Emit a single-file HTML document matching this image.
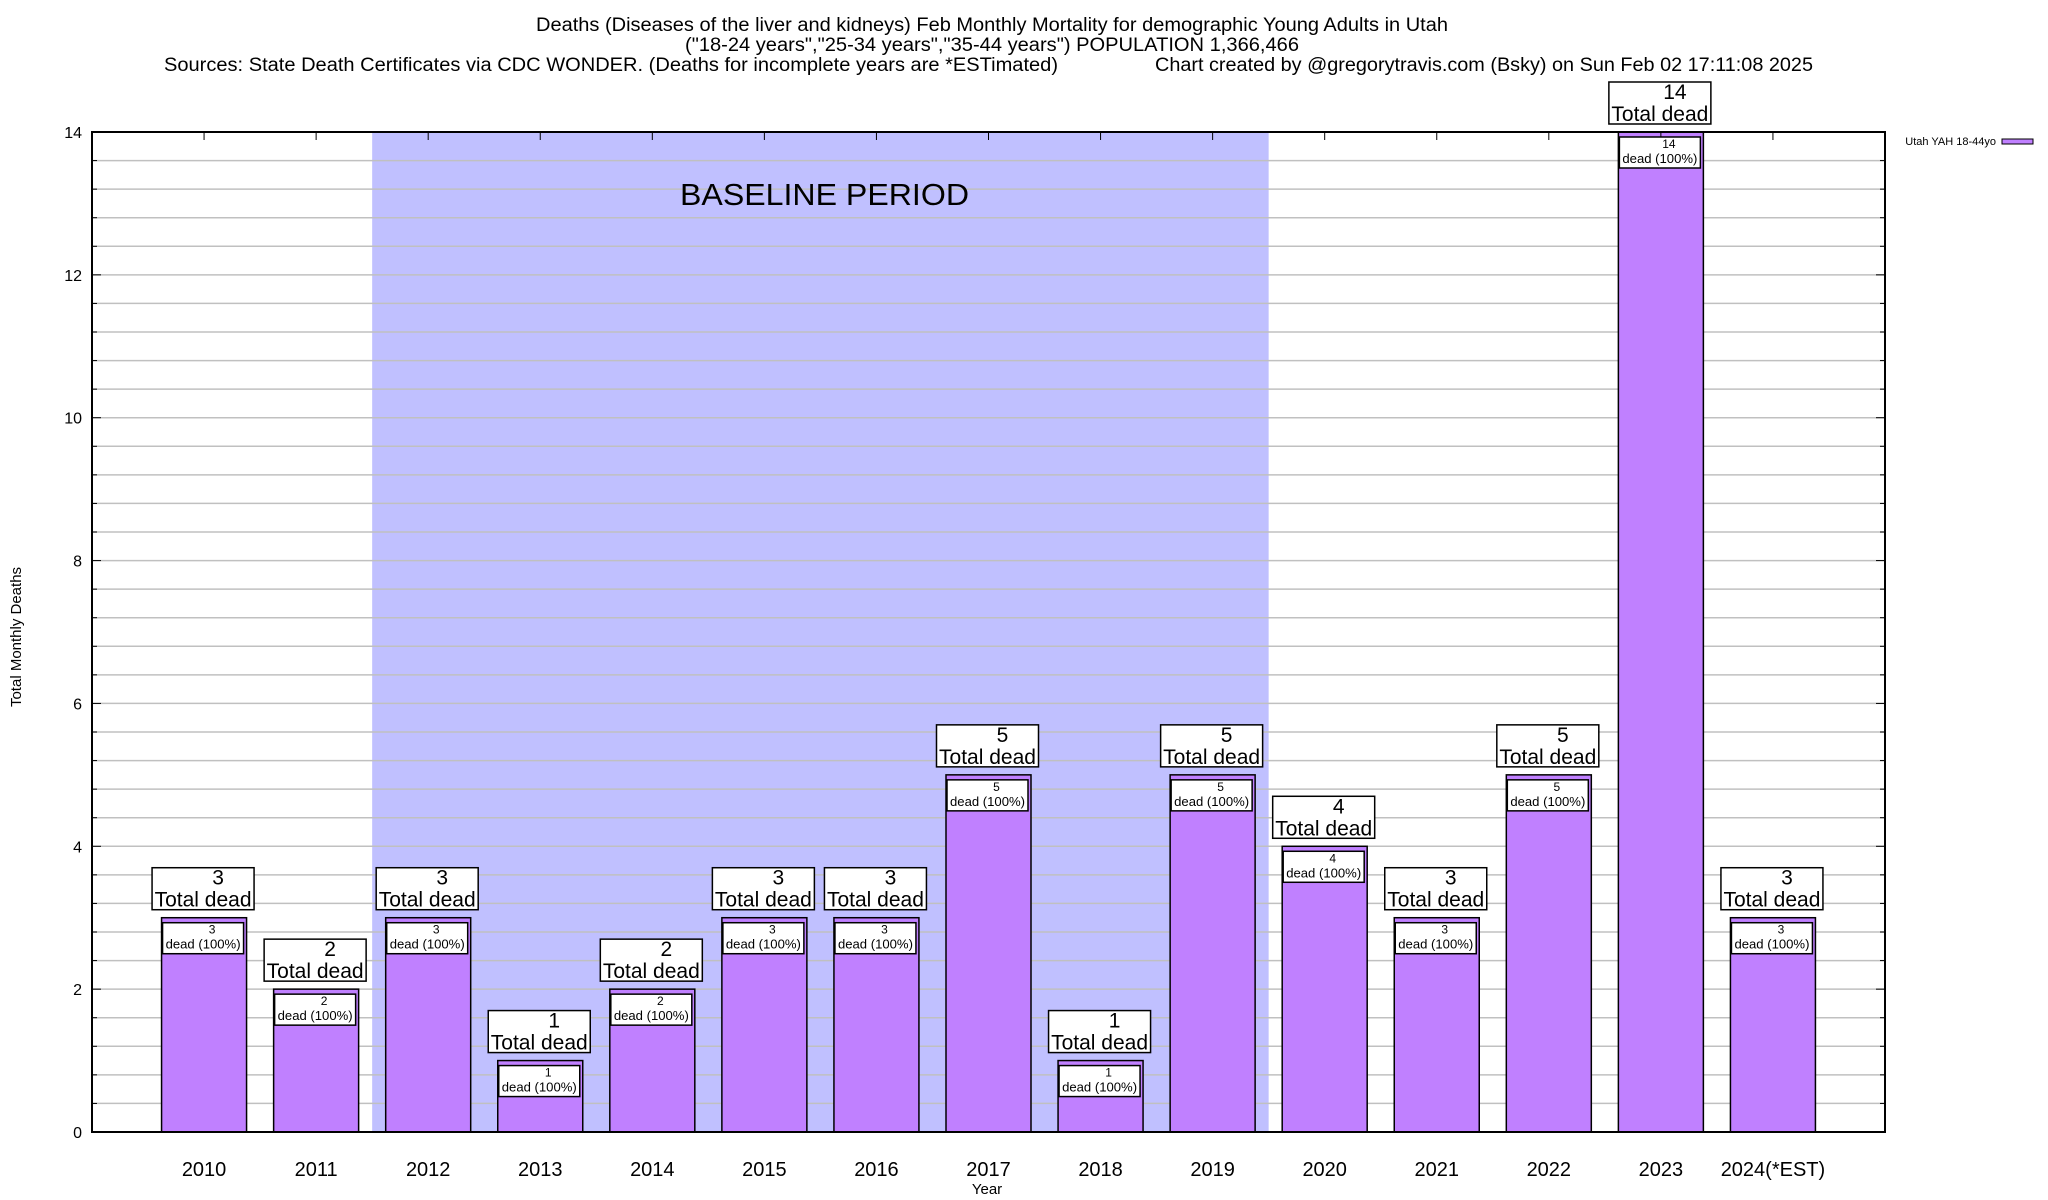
<!DOCTYPE html>
<html><head><meta charset="utf-8"><style>
html,body{margin:0;padding:0;background:#fff}
svg{display:block;font-family:"Liberation Sans",Arial,sans-serif}
</style></head><body>
<svg id="chart" width="2048" height="1200" viewBox="0 0 2048 1200" xmlns="http://www.w3.org/2000/svg">
<g font-size="19" fill="#000">
<text x="536" y="31" textLength="912" lengthAdjust="spacingAndGlyphs">Deaths (Diseases of the liver and kidneys) Feb Monthly Mortality for demographic Young Adults in Utah</text>
<text x="685" y="51" textLength="614" lengthAdjust="spacingAndGlyphs">("18-24 years","25-34 years","35-44 years") POPULATION 1,366,466</text>
<text x="164" y="71" textLength="894" lengthAdjust="spacingAndGlyphs">Sources: State Death Certificates via CDC WONDER. (Deaths for incomplete years are *ESTimated)</text>
<text x="1155" y="71" textLength="658" lengthAdjust="spacingAndGlyphs">Chart created by @gregorytravis.com (Bsky) on Sun Feb 02 17:11:08 2025</text>
</g>
<g id="plot"></g>
<g>
<text x="1996" y="145" font-size="11" text-anchor="end">Utah YAH 18-44yo</text>
<rect x="2002" y="139" width="31" height="5" fill="#c080ff" stroke="#000" stroke-width="1"/>
</g>
<text x="0" y="0" font-size="15" text-anchor="middle" transform="translate(21,637) rotate(-90)">Total Monthly Deaths</text>
<text x="987" y="1194" font-size="15" text-anchor="middle">Year</text>
</svg>
<script>
const categories = ["2010","2011","2012","2013","2014","2015","2016","2017","2018","2019","2020","2021","2022","2023","2024(*EST)"];
const deaths = [3,2,3,1,2,3,3,5,1,5,4,3,5,14,3];
const yTicks = [0,2,4,6,8,10,12,14];
const baselineRange = [1.5, 9.5];
const yMax = 14;

const NS = "http://www.w3.org/2000/svg";
const L = 92, R = 1885, T = 132, B = 1132;
const xS = i => L + (i + 1) * (R - L) / 16;
const yS = v => B - v * (B - T) / yMax;
const plot = document.getElementById('plot');
function mk(tag, attrs, parent, text) {
  const e = document.createElementNS(NS, tag);
  for (const k in attrs) e.setAttribute(k, attrs[k]);
  if (text !== undefined) e.textContent = text;
  (parent || plot).appendChild(e);
  return e;
}
// baseline shading
const shade = mk('rect', {x: xS(baselineRange[0]), y: T, width: xS(baselineRange[1]) - xS(baselineRange[0]), height: B - T, fill: '#c0c0ff'});


// grid + ticks
for (let k = 1; k < yMax / 0.4; k++) {
  const v = k * 0.4;
  const y = yS(v);
  const g = mk('line', {x1: L, x2: R, y1: y, y2: y, stroke: '#c0c0c0', 'stroke-width': 1.5});
  
  
  const major = Math.abs(v / 2 - Math.round(v / 2)) < 1e-6;
  const len = major ? 9 : 5;
  mk('line', {x1: L, x2: L + len, y1: y, y2: y, stroke: '#000', 'stroke-width': 1});
  mk('line', {x1: R - len, x2: R, y1: y, y2: y, stroke: '#000', 'stroke-width': 1});
}
const bl = mk('text', {x: 680, y: 205, 'font-size': 31, textLength: 289, lengthAdjust: 'spacingAndGlyphs'}, plot, 'BASELINE PERIOD');


yTicks.forEach(v => {
  const t = mk('text', {x: 82, y: yS(v) + 6, 'font-size': 16, 'text-anchor': 'end'}, plot, String(v));
  
  
});
// bars
categories.forEach((c, i) => {
  const cx = xS(i), v = deaths[i], yt = yS(v);
  const bar = mk('rect', {x: cx - 42.5, y: yt, width: 85, height: B - yt, fill: '#c080ff', stroke: '#000', 'stroke-width': 1.5});
  
  
  mk('line', {x1: cx, x2: cx, y1: T, y2: T + 8, stroke: '#000', 'stroke-width': 1});
  const ob = mk('rect', {x: cx - 52, y: yt - 50, width: 102, height: 42, fill: '#fff', stroke: '#000', 'stroke-width': 1.5});
  
  
  const on = mk('text', {x: cx + 14, y: yt - 33, 'font-size': 21, 'text-anchor': 'middle'}, plot, String(v));
  
  
  const ot = mk('text', {x: cx - 1, y: yt - 11, 'font-size': 21, 'text-anchor': 'middle', textLength: 97, lengthAdjust: 'spacingAndGlyphs'}, plot, 'Total dead');
  
  
  const ib = mk('rect', {x: cx - 41.5, y: yt + 5, width: 81, height: 31, fill: '#fff', stroke: '#000', 'stroke-width': 1.5});
  
  
  const inn = mk('text', {x: cx + 8, y: yt + 16, 'font-size': 12, 'text-anchor': 'middle'}, plot, String(v));
  
  
  const it = mk('text', {x: cx - 1, y: yt + 31, 'font-size': 12.5, 'text-anchor': 'middle', textLength: 75, lengthAdjust: 'spacingAndGlyphs'}, plot, 'dead (100%)');
  
  
  const xl = mk('text', {x: cx, y: 1176, 'font-size': 20, 'text-anchor': 'middle'}, plot, c);
  
  
});
const frame = mk('rect', {x: L, y: T, width: R - L, height: B - T, fill: 'none', stroke: '#000', 'stroke-width': 2});


</script>
</body></html>
